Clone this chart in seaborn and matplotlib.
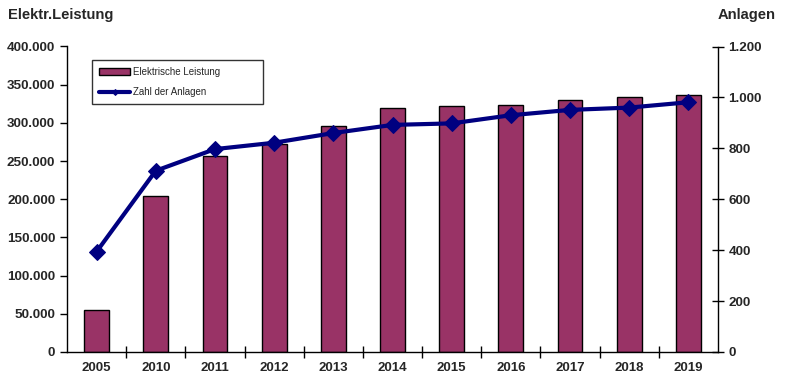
import numpy as np
import seaborn as sns
import matplotlib.pyplot as plt
from matplotlib.ticker import FuncFormatter

years = ["2005", "2010", "2011", "2012", "2013", "2014", "2015", "2016", "2017", "2018", "2019"]
leistung = [55000, 204000, 256500, 272000, 296500, 320000, 321500, 324000, 329500, 333500, 336000]
anlagen = [394, 712, 797, 822, 860, 892, 898, 930, 951, 960, 981]

bar_color = "#993366"
line_color = "#000080"

sns.set_style("white")
plt.rcParams["font.family"] = ["Liberation Sans", "DejaVu Sans"]

fig = plt.figure(figsize=(7.86, 3.83), dpi=100)
ax = fig.add_axes([67 / 786, 1 - 352 / 383, 651 / 786, 305.5 / 383])

sns.barplot(x=years, y=leistung, color=bar_color, edgecolor="black", linewidth=1,
            width=0.42, saturation=1, ax=ax, label="Elektrische Leistung")
ax.set_xlim(-0.5, len(years) - 0.5)
ax.set_ylim(0, 400000)
ax.set_yticks(np.arange(0, 400001, 50000))
ax.yaxis.set_major_formatter(FuncFormatter(lambda v, p: f"{v:,.0f}".replace(",", ".")))

ax2 = ax.twinx()
sns.lineplot(x=np.arange(len(years)), y=anlagen, color=line_color, linewidth=3,
             marker="D", markersize=8, markeredgecolor=line_color, ax=ax2,
             label="Zahl der Anlagen", legend=False)
ax2.set_ylim(0, 1200)
ax2.set_yticks(np.arange(0, 1201, 200))
ax2.yaxis.set_major_formatter(FuncFormatter(lambda v, p: f"{v:,.0f}".replace(",", ".")))

for a in (ax, ax2):
    a.spines["top"].set_visible(False)
    for s in ("left", "right", "bottom"):
        a.spines[s].set_color("black")
        a.spines[s].set_linewidth(1)
    a.set_xlabel("")
    a.set_ylabel("")

ax.spines["right"].set_visible(False)
ax2.spines["left"].set_visible(False)
ax2.spines["bottom"].set_visible(False)

ax.set_xticks(np.arange(len(years) - 1) + 0.5, minor=True)
ax.tick_params(axis="x", which="major", length=0, labelsize=9.5, pad=7)
ax.tick_params(axis="x", which="minor", direction="inout", length=8, width=1, color="black", bottom=True)
ax.tick_params(axis="y", direction="out", length=5, width=1, color="black", left=True, labelsize=9.7)
ax2.tick_params(axis="y", direction="inout", length=8, width=1, color="black", right=True, labelsize=9.7)
for lbl in ax.get_xticklabels() + ax.get_yticklabels() + ax2.get_yticklabels():
    lbl.set_fontweight("bold")

fig.text(8 / 786, 1 - 15 / 383, "Elektr.Leistung", fontsize=10.6, fontweight="bold", va="center", ha="left")
fig.text(718 / 786, 1 - 15 / 383, "Anlagen", fontsize=10.6, fontweight="bold", va="center", ha="left")

h1, l1 = ax.get_legend_handles_labels()
h2, l2 = ax2.get_legend_handles_labels()
if ax.get_legend() is not None:
    ax.get_legend().remove()
leg = ax2.legend(h1 + h2, l1 + l2, loc="upper left", bbox_to_anchor=(0.038, 0.818, 0.263, 0.138),
                 mode="expand", fontsize=7, frameon=True, fancybox=False, edgecolor="black",
                 handlelength=3.2, borderpad=0.75, labelspacing=1.0, handletextpad=0.3,
                 borderaxespad=0)
leg.get_frame().set_linewidth(1)
for line in leg.get_lines():
    line.set_markersize(3)

fig.savefig("out.png", dpi=100)
